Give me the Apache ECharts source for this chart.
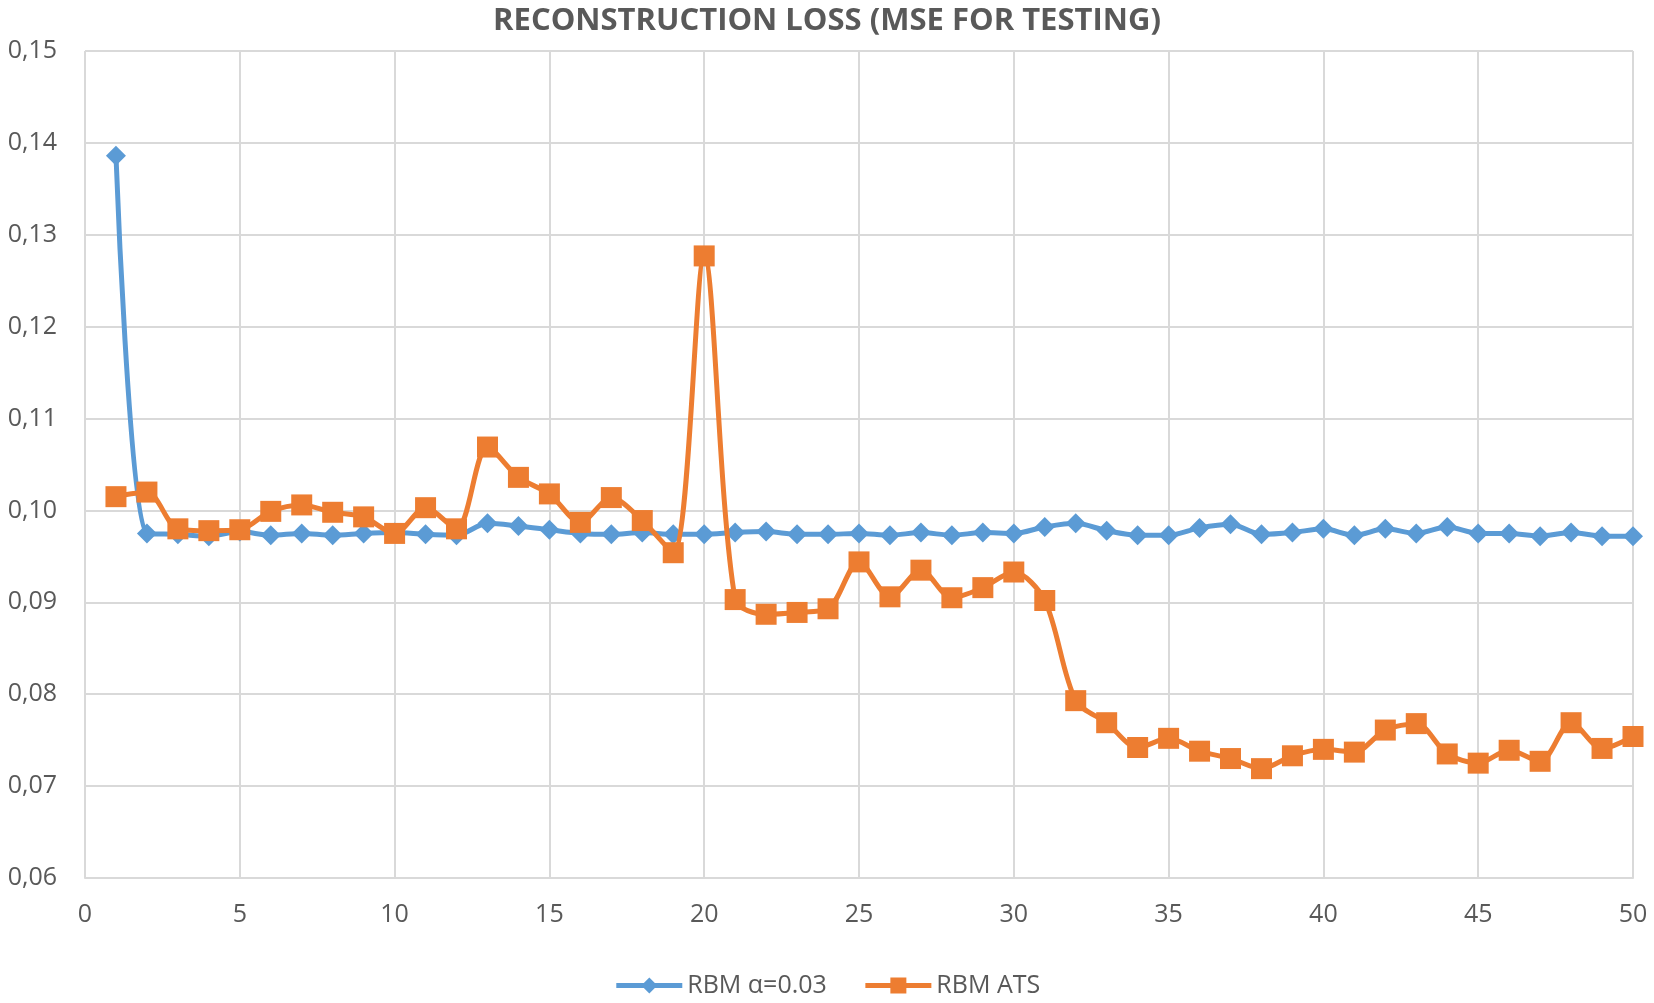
<!DOCTYPE html>
<html>
<head>
<meta charset="utf-8">
<script src="https://cdn.jsdelivr.net/npm/echarts@6/dist/echarts.min.js"></script>
<style>
  html, body { margin: 0; padding: 0; background: #fff; }
  #main { width: 1654px; height: 1003px; }
</style>
</head>
<body>
<div id="main"></div>
<script>
// epochs 1..50
var epochs = [];
for (var i = 1; i <= 50; i++) epochs.push(i);

// RBM α=0.03
var rbmFixed = [
  0.1386, 0.0975, 0.0974, 0.0972, 0.0977, 0.0973, 0.0975, 0.0973, 0.0975, 0.0976,
  0.0974, 0.0973, 0.0986, 0.0983, 0.0979, 0.0975, 0.0974, 0.0976, 0.0974, 0.0974,
  0.0976, 0.0977, 0.0974, 0.0974, 0.0975, 0.0973, 0.0976, 0.0973, 0.0976, 0.0975,
  0.0982, 0.0986, 0.0978, 0.0973, 0.0973, 0.0981, 0.0985, 0.0974, 0.0976, 0.0980,
  0.0973, 0.0980, 0.0975, 0.0982, 0.0975, 0.0975, 0.0972, 0.0976, 0.0972, 0.0972
];
// RBM ATS
var rbmAts = [
  0.1015, 0.1020, 0.0980, 0.0978, 0.0979, 0.0999, 0.1006, 0.0998, 0.0993, 0.0975,
  0.1003, 0.0980, 0.1069, 0.1036, 0.1018, 0.0987, 0.1014, 0.0989, 0.0954, 0.1277,
  0.0903, 0.0887, 0.0889, 0.0893, 0.0944, 0.0906, 0.0935, 0.0905, 0.0916, 0.0933,
  0.0902, 0.0793, 0.0769, 0.0742, 0.0752, 0.0738, 0.0730, 0.0719, 0.0733, 0.0740,
  0.0737, 0.0761, 0.0768, 0.0735, 0.0725, 0.0739, 0.0727, 0.0769, 0.0741, 0.0754
];

var seriesNames = ['RBM α=0.03', 'RBM ATS'];
var colors = ['#5B9BD5', '#ED7D31'];

function pairs(arr){
  return arr.map(function(v, k){ return [epochs[k], v]; });
}

var chart = echarts.init(document.getElementById('main'));
var font = '"Open Sans", "Liberation Sans", sans-serif';

var option = {
  animation: false,
  backgroundColor: '#fff',
  title: {
    text: 'RECONSTRUCTION LOSS (MSE FOR TESTING)',
    left: 'center',
    top: 1,
    textStyle: {
      fontFamily: font,
      fontSize: 31,
      fontWeight: 'bold',
      color: '#595959'
    }
  },
  legend: {
    data: seriesNames,
    bottom: 0,
    left: 'center',
    itemWidth: 66,
    itemHeight: 20,
    itemGap: 36,
    lineStyle: { width: 5 },
    textStyle: { fontFamily: font, fontSize: 25, color: '#595959' }
  },
  grid: { left: 85, right: 21, top: 51, bottom: 125 },
  xAxis: {
    type: 'value',
    min: 0, max: 50, interval: 5,
    axisLine: { show: true, lineStyle: { color: '#D9D9D9', width: 2 } },
    axisTick: { show: false },
    axisLabel: { fontFamily: font, fontSize: 25, color: '#595959', margin: 24 },
    splitLine: { show: true, lineStyle: { color: '#D9D9D9', width: 2 } }
  },
  yAxis: {
    type: 'value',
    min: 0.06, max: 0.15, interval: 0.01,
    axisLine: { show: false },
    axisTick: { show: false },
    axisLabel: {
      fontFamily: font, fontSize: 25, color: '#595959', margin: 28,
      formatter: function(v){ return v.toFixed(2).replace('.', ','); }
    },
    splitLine: { show: true, lineStyle: { color: '#D9D9D9', width: 2 } }
  },
  series: [
    {
      name: seriesNames[0],
      type: 'line',
      data: pairs(rbmFixed),
      smooth: 0.3,
      symbol: 'diamond',
      symbolSize: 20,
      itemStyle: { color: colors[0] },
      lineStyle: { color: colors[0], width: 5 },
      z: 3
    },
    {
      name: seriesNames[1],
      type: 'line',
      data: pairs(rbmAts),
      smooth: 0.3,
      symbol: 'rect',
      symbolSize: 21,
      itemStyle: { color: colors[1] },
      lineStyle: { color: colors[1], width: 5 },
      z: 4
    }
  ]
};

chart.setOption(option);
</script>
</body>
</html>
